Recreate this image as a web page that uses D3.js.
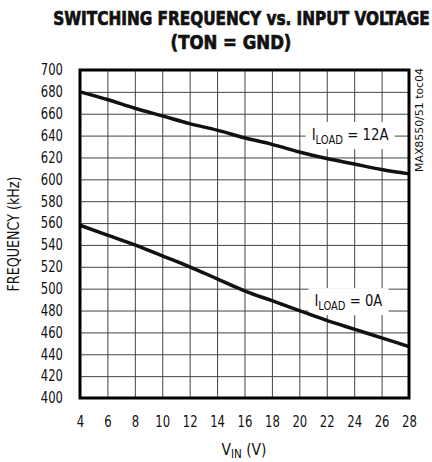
<!DOCTYPE html>
<html>
<head>
<meta charset="utf-8" />
<title></title>
<script src="https://cdn.jsdelivr.net/npm/d3@7"></script>
<style>
html, body {
    padding: 0px;
    margin: 0px;
    background: #fff;
}
text {
    font-family: "Liberation Sans Narrow", "DejaVu Sans Condensed", sans-serif;
    fill: #111;
}
.grid line {
    stroke: #444;
    stroke-width: 1;
}
.grid path { display: none; }
</style>
</head>
<body>
<svg id="chart" width="432" height="462"></svg>
<script>
!(function(){
    "use strict"

    // values
    var vin    = [4, 6, 8, 10, 12, 14, 16, 18, 20, 22, 24, 26, 28];
    var load12 = [680, 673, 665, 658, 651, 645, 638, 632, 625, 619, 614, 609, 605];
    var load0  = [558, 549, 540, 530, 520, 509, 498, 489, 480, 471, 463, 455, 447];
    var xTicks = [4, 6, 8, 10, 12, 14, 16, 18, 20, 22, 24, 26, 28];
    var yTicks = [400, 420, 440, 460, 480, 500, 520, 540, 560, 580, 600, 620, 640, 660, 680, 700];

    var svg = d3.select("#chart");
    var L = 80, R = 409, T = 70, B = 398;

    var x = d3.scaleLinear().domain([4, 28]).range([L, R]);
    var y = d3.scaleLinear().domain([400, 700]).range([B, T]);

    // title (squeezed horizontally, the original face is a condensed black)
    function title(cx, cy, sx, str) {
        svg.append("text")
            .attr("transform", "translate(" + cx + "," + cy + ") scale(" + sx + ",1)")
            .attr("text-anchor", "middle")
            .attr("font-size", 20).attr("font-weight", "bold")
            .attr("stroke", "#111").attr("stroke-width", 0.7)
            .text(str);
    }
    title(241.5, 25, 0.85, "SWITCHING FREQUENCY vs. INPUT VOLTAGE");
    title(231, 49, 0.92, "(TON = GND)");

    // grid
    svg.append("g").attr("class", "grid")
        .attr("transform", "translate(0," + B + ")")
        .call(d3.axisBottom(x).tickValues(xTicks).tickSize(-(B - T)).tickFormat(""));
    svg.append("g").attr("class", "grid")
        .attr("transform", "translate(" + L + ",0)")
        .call(d3.axisLeft(y).tickValues(yTicks).tickSize(-(R - L)).tickFormat(""));

    // tick labels
    var xa = svg.append("g")
        .attr("transform", "translate(0," + B + ")")
        .call(d3.axisBottom(x).tickValues(xTicks).tickSize(0).tickPadding(18).tickFormat(d3.format("d")));
    var ya = svg.append("g")
        .attr("transform", "translate(" + L + ",0)")
        .call(d3.axisLeft(y).tickValues(yTicks).tickSize(0).tickPadding(17).tickFormat(d3.format("d")));
    [xa, ya].forEach(function(a){
        a.select(".domain").remove();
        a.selectAll("text")
            .attr("font-size", 15).attr("font-family", null).attr("fill", "#111")
            .attr("textLength", function(d){ return String(d).length * 7.4; })
            .attr("lengthAdjust", "spacingAndGlyphs");
    });

    // curve labels with white boxes
    function curveLabel(vx, fy, sub, rest, w) {
        var g = svg.append("g");
        var t = g.append("text")
            .attr("x", x(vx)).attr("y", y(fy))
            .attr("font-size", 16)
            .attr("textLength", w).attr("lengthAdjust", "spacingAndGlyphs");
        t.append("tspan").text("I");
        t.append("tspan").attr("font-size", 12).attr("dy", 4).text(sub);
        t.append("tspan").attr("dy", -4).text(rest);
        var bb = t.node().getBBox();
        g.insert("rect", "text")
            .attr("x", bb.x - 6).attr("y", bb.y - 3)
            .attr("width", bb.width + 12).attr("height", bb.height + 5)
            .attr("fill", "#fff");
    }
    curveLabel(20.9, 636, "LOAD", " = 12A", 77);
    curveLabel(21.1, 484, "LOAD", " = 0A", 68);

    // curves
    var line = d3.line()
        .x(function(d){ return x(d[0]); })
        .y(function(d){ return y(d[1]); })
        .curve(d3.curveMonotoneX);
    [load12, load0].forEach(function(s){
        svg.append("path")
            .datum(vin.map(function(v, i){ return [v, s[i]]; }))
            .attr("d", line)
            .attr("fill", "none")
            .attr("stroke", "#111")
            .attr("stroke-width", 3.5);
    });

    // frame
    svg.append("rect")
        .attr("x", L).attr("y", T)
        .attr("width", R - L).attr("height", B - T)
        .attr("fill", "none").attr("stroke", "#000").attr("stroke-width", 3);

    // axis titles
    var xt = svg.append("text")
        .attr("x", 244).attr("y", 455)
        .attr("text-anchor", "middle")
        .attr("font-size", 16)
        .attr("textLength", 45).attr("lengthAdjust", "spacingAndGlyphs");
    xt.append("tspan").text("V");
    xt.append("tspan").attr("font-size", 12).attr("dy", 3).text("IN");
    xt.append("tspan").attr("dy", -3).text(" (V)");

    svg.append("text")
        .attr("transform", "translate(19," + ((T + B) / 2) + ") rotate(-90)")
        .attr("text-anchor", "middle")
        .attr("font-size", 15)
        .attr("textLength", 115).attr("lengthAdjust", "spacingAndGlyphs")
        .text("FREQUENCY (kHz)");

    svg.append("text")
        .attr("transform", "translate(423,120) rotate(-90)")
        .attr("text-anchor", "middle")
        .attr("font-size", 10)
        .attr("textLength", 104).attr("lengthAdjust", "spacingAndGlyphs")
        .text("MAX8550/51 toc04");
}());
</script>
</body>
</html>
